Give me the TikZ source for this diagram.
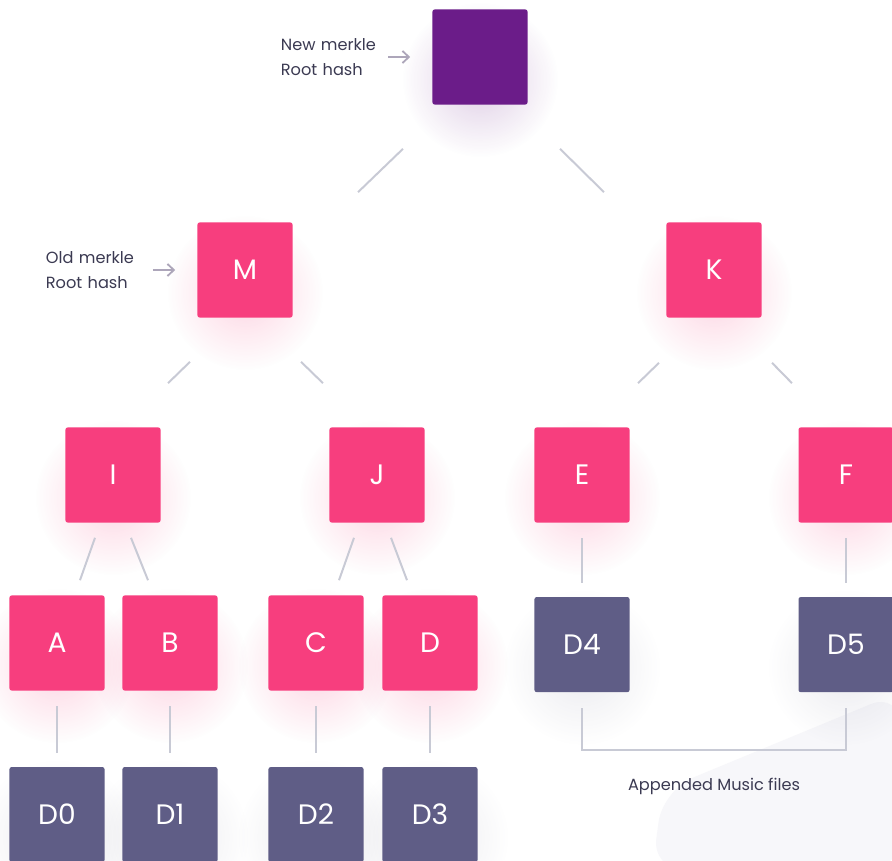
\documentclass[tikz,border=0pt]{standalone}
\usepackage{fontspec}
\setmainfont{Poppins}
\usetikzlibrary{arrows.meta, positioning, calc, fadings, backgrounds}

\definecolor{hashpink}{HTML}{F73E7E}
\definecolor{rootpurple}{HTML}{6B1C89}
\definecolor{fileslate}{HTML}{5F5D86}
\definecolor{fileshadow}{HTML}{9A9AAE}
\definecolor{linkgray}{HTML}{C8CAD5}
\definecolor{arrowgray}{HTML}{ADA6BA}
\definecolor{notetext}{HTML}{3B3A52}
\definecolor{bgshade}{HTML}{F7F7FA}

\tikzfading[name=glowfade, inner color=transparent!0, outer color=transparent!100]

\begin{document}
\begin{tikzpicture}[
  x = 0.025cm, y = -0.025cm,
  node distance = 1.9cm,
  box/.style = {
    rectangle, rounded corners=1.5pt, minimum size=2.375cm, inner sep=0pt,
    text=white, font=\fontsize{20}{24}\selectfont
  },
  rootbox/.style = {box, fill=rootpurple},
  hashbox/.style = {box, fill=hashpink},
  filebox/.style = {box, fill=fileslate},
  note/.style = {font=\fontsize{11.5}{17.5}\selectfont, text=notetext,
    align=left, text width=2.6cm, inner sep=0pt},
  caption/.style = {note, text width={}, align=center},
  link/.style = {draw=linkgray, line width=1.4pt},
  vlink/.style = {link, shorten <=0.38cm, shorten >=0.35cm},
  pointer/.style = {draw=arrowgray, line width=1.3pt,
    -{Straight Barb[length=1.6mm, width=3mm]}, shorten <=0.07cm, shorten >=0.55cm}
]

\useasboundingbox (0,0) rectangle (892,860);

% tree of hashes
\node[rootbox] (root) at (480,57) {};
\node[hashbox] (M) at (245,270) {M};
\node[hashbox] (K) at (714,270) {K};
\node[hashbox] (I) at (113,475) {I};
\node[hashbox] (J) at (377,475) {J};
\node[hashbox] (E) at (582,475) {E};
\node[hashbox] (F) at (846,475) {F};
\node[hashbox] (A) at (57,643) {A};
\node[hashbox] (B) at (170,643) {B};
\node[hashbox] (C) at (316,643) {C};
\node[hashbox] (D) at (430,643) {D};

% music files
\node[filebox, below=of A] (D0) {D0};
\node[filebox, below=of B] (D1) {D1};
\node[filebox, below=of C] (D2) {D2};
\node[filebox, below=of D] (D3) {D3};
\node[filebox, below=1.85cm of E] (D4) {D4};
\node[filebox, below=1.85cm of F] (D5) {D5};

\draw[link] ([shift={(-77,44)}]root.south) -- ([shift={(113,-30)}]M.north);
\draw[link] ([shift={(80,44)}]root.south) -- ([shift={(-110,-30)}]K.north);
\draw[link] ([shift={(-55,44)}]M.south) -- ([shift={(55,-44)}]I.north);
\draw[link] ([shift={(56,44)}]M.south) -- ([shift={(-54,-44)}]J.north);
\draw[link] ([shift={(-55,45)}]K.south) -- ([shift={(56,-44)}]E.north);
\draw[link] ([shift={(58,45)}]K.south) -- ([shift={(-54,-44)}]F.north);
\draw[link] ([shift={(-18,15)}]I.south) -- ([shift={(23,-15)}]A.north);
\draw[link] ([shift={(18,15)}]I.south) -- ([shift={(-22,-15)}]B.north);
\draw[link] ([shift={(-23,15)}]J.south) -- ([shift={(23,-15)}]C.north);
\draw[link] ([shift={(14,15)}]J.south) -- ([shift={(-23,-15)}]D.north);

\draw[vlink] (A) -- (D0);
\draw[vlink] (B) -- (D1);
\draw[vlink] (C) -- (D2);
\draw[vlink] (D) -- (D3);
\draw[vlink] (E) -- (D4);
\draw[vlink] (F) -- (D5);

% bracket over the appended files
\draw[link] ([shift={(0,16)}]D4.south) -- ([shift={(0,58)}]D4.south)
  -| ([shift={(0,16)}]D5.south);
\node[caption] (appended) at ($(D4.south)!.5!(D5.south)+(0,94)$) {Appended Music files};

\node[note, left=1.175cm of root] (newroot) {New merkle \\ Root hash};
\node[note, left=1.175cm of M] (oldroot) {Old merkle \\ Root hash};
\draw[pointer] (newroot) -- (root);
\draw[pointer] (oldroot) -- (M);

\begin{pgfonlayer}{background}
  \fill[white] (0,0) rectangle (892,860);
  \fill[bgshade, rounded corners=0.8cm] (652,870) -- (663,790) -- (900,692) -- (900,870) -- cycle;
  \foreach \n/\tone/\op in {root/rootpurple/0.22, M/hashpink/0.22, K/hashpink/0.22,
      I/hashpink/0.22, J/hashpink/0.22, E/hashpink/0.22, F/hashpink/0.22,
      A/hashpink/0.22, B/hashpink/0.22, C/hashpink/0.22, D/hashpink/0.22,
      D0/fileshadow/0.2, D1/fileshadow/0.2, D2/fileshadow/0.2, D3/fileshadow/0.2,
      D4/fileshadow/0.2, D5/fileshadow/0.2}
    \fill[\tone, fill opacity=\op, path fading=glowfade]
      ([shift={(-78,-55)}]\n.center) rectangle ([shift={(78,100)}]\n.center);
\end{pgfonlayer}

\end{tikzpicture}
\end{document}
